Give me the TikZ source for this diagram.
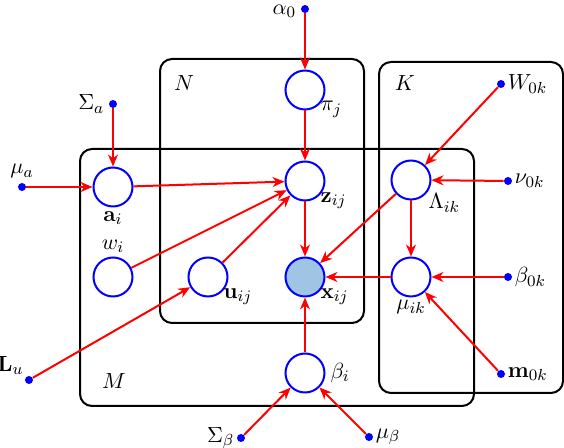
\documentclass[tikz,border=0pt]{standalone}
\usetikzlibrary{arrows.meta,positioning}
\tikzstyle{arrow} = [red,line width=1pt,-{Stealth[length=6pt,width=5pt]}]

\begin{document}
\begin{tikzpicture}[x=0.5pt,y=-0.5pt,font=\fontsize{11}{13}\selectfont,
  latent/.style={draw=blue,line width=1pt,circle,minimum size=19.5pt,inner sep=0pt},
  observed/.style={latent,fill={rgb,255:red,160;green,196;blue,228}},
  hyper/.style={circle,fill=blue,minimum size=4pt,inner sep=0pt},
  plate/.style={draw,line width=1pt,rounded corners=6pt}]

 \useasboundingbox (0,0) rectangle (564,448);

 % plates
 \draw[plate] (160,59) rectangle (364,323);
 \draw[plate] (80,149) rectangle (474,406);
 \draw[plate] (379,62) rectangle (563,393);
 \node (labN) at (184,83) {$N$};
 \node (labK) at (405,83) {$K$};
 \node (labM) at (114,381) {$M$};

 % random variables
 \node [latent] (a) at (113,187) {};
 \node [latent] (w) at (113,277) {};
 \node [latent] (u) at (208,277) {};
 \node [latent] (pi) at (305,90) {};
 \node [latent] (z) at (305,181) {};
 \node [observed] (x) at (305,277) {};
 \node [latent] (beta) at (305,373) {};
 \node [latent] (Lambda) at (411,180) {};
 \node [latent] (mu) at (411,277) {};

 \node [below=-1.5pt of a] {$\mathbf{a}_i$};
 \node [above=-1.5pt of w] {$w_i$};
 \node [below right=-5pt and -3pt of u] {$\mathbf{u}_{ij}$};
 \node [below right=-5pt and -3pt of pi] {$\pi_j$};
 \node [below right=-5pt and -3pt of z] {$\mathbf{z}_{ij}$};
 \node [below right=-5pt and -3pt of x] {$\mathbf{x}_{ij}$};
 \node [right=-1pt of beta] {$\beta_i$};
 \node [below right=-4pt and -2pt of Lambda] {$\Lambda_{ik}$};
 \node [below=-2pt of mu] {$\mu_{ik}$};

 % hyperparameters
 \node [hyper,label={[inner sep=0pt,xshift=-2pt,yshift=-1pt]left:$\alpha_0$}] (alpha0) at (305,9) {};
 \node [hyper,label={[inner sep=2pt]left:$\Sigma_a$}] (Sigmaa) at (113,104) {};
 \node [hyper,label={[inner sep=2pt]above:$\mu_a$}] (mua) at (22,187) {};
 \node [hyper,label={[inner sep=1pt]above left:$\mathbf{L}_u$}] (Lu) at (29,380) {};
 \node [hyper,label={[inner sep=1pt]left:$\Sigma_\beta$}] (Sigmab) at (241,438) {};
 \node [hyper,label={[inner sep=1pt]right:$\mu_\beta$}] (mub) at (369,437) {};
 \node [hyper,label={[inner sep=1pt]right:$W_{0k}$}] (W0) at (501,84) {};
 \node [hyper,label={[inner sep=1pt]right:$\nu_{0k}$}] (nu0) at (508,181) {};
 \node [hyper,label={[inner sep=1pt]right:$\beta_{0k}$}] (beta0) at (508,277) {};
 \node [hyper,label={[inner sep=1pt]right:$\mathbf{m}_{0k}$}] (m0) at (501,374) {};

 % edges
 \draw[arrow] (alpha0) -- (pi);
 \draw[arrow] (pi) -- (z);
 \draw[arrow] (Sigmaa) -- (a);
 \draw[arrow] (mua) -- (a);
 \draw[arrow] (a) -- (z);
 \draw[arrow] (w) -- (z);
 \draw[arrow] (u) -- (z);
 \draw[arrow] (Lu) -- (u);
 \draw[arrow] (z) -- (x);
 \draw[arrow] (Lambda) -- (x);
 \draw[arrow] (mu) -- (x);
 \draw[arrow] (beta) -- (x);
 \draw[arrow] (Sigmab) -- (beta);
 \draw[arrow] (mub) -- (beta);
 \draw[arrow] (Lambda) -- (mu);
 \draw[arrow] (W0) -- (Lambda);
 \draw[arrow] (nu0) -- (Lambda);
 \draw[arrow] (beta0) -- (mu);
 \draw[arrow] (m0) -- (mu);
\end{tikzpicture}
\end{document}
